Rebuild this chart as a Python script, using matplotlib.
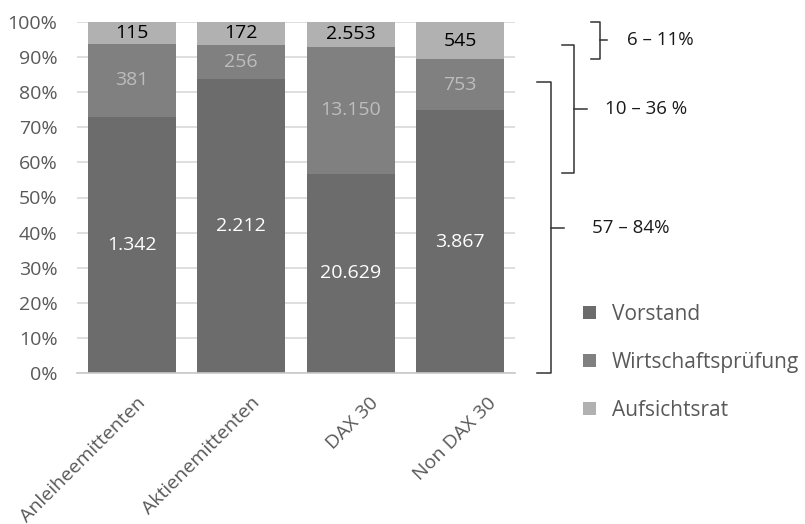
import numpy as np
import matplotlib
matplotlib.use('Agg')
import matplotlib.pyplot as plt
from matplotlib.patches import Patch
from matplotlib.transforms import ScaledTranslation, blended_transform_factory

plt.rcParams['font.family'] = ['Open Sans', 'DejaVu Sans']

# ---- Daten ----
categories = ['Anleiheemittenten', 'Aktienemittenten', 'DAX 30', 'Non DAX 30']
vorstand = [1342, 2212, 20629, 3867]
wirtschaftspruefung = [381, 256, 13150, 753]
aufsichtsrat = [115, 172, 2553, 545]
series_names = ['Vorstand', 'Wirtschaftsprüfung', 'Aufsichtsrat']

# Klammern rechts: (oben, unten) als Anteil, Beschriftung
bracket_ranges = [(1.0, 0.895), (0.934, 0.571), (0.829, 0.0)]
bracket_labels = ['6 – 11%', '10 – 36 %', '57 – 84%']

# ---- Farben ----
colors = ['#6c6c6c', '#808080', '#b1b1b1']
label_colors = ['#ffffff', '#bdbdbd', '#000000']
text_gray = '#595959'

W, H = 805, 524
fig = plt.figure(figsize=(W / 100, H / 100), dpi=100)
ax = fig.add_axes([77 / W, 1 - 373 / H, 438 / W, 351 / H])

values = np.array([vorstand, wirtschaftspruefung, aufsichtsrat], dtype=float)
shares = values / values.sum(axis=0)
x = np.arange(len(categories))

bottom = np.zeros(len(categories))
for i, name in enumerate(series_names):
    ax.bar(x, shares[i], 0.8, bottom=bottom, color=colors[i], label=name, zorder=2)
    for j in range(len(categories)):
        txt = f'{int(values[i, j]):,}'.replace(',', '.')
        ax.text(x[j], bottom[j] + shares[i, j] / 2, txt, ha='center', va='center',
                fontsize=14, color=label_colors[i], zorder=3)
    bottom += shares[i]

ax.set_xlim(-0.5, len(categories) - 0.5)
ax.set_ylim(0, 1)
ax.set_yticks(np.arange(0, 1.01, 0.1))
ax.set_yticklabels([f'{int(round(v * 100))}%' for v in np.arange(0, 1.01, 0.1)])
ax.yaxis.grid(True, color='#d9d9d9', linewidth=1.2, zorder=0)
ax.set_axisbelow(True)
for s in ['top', 'right', 'left']:
    ax.spines[s].set_visible(False)
ax.spines['bottom'].set_color('#c8c8c8')
ax.spines['bottom'].set_linewidth(1.2)
ax.tick_params(axis='both', length=0, labelsize=14, labelcolor=text_gray)
ax.tick_params(axis='y', pad=14)
ax.tick_params(axis='x', pad=15)

# Excel-artige Lage der gedrehten Kategorienbeschriftungen (Versatz in px)
label_dx = [17, 22, 31, 40]
ax.set_xticks(x)
ax.set_xticklabels(categories, rotation=45, ha='right', va='top')
for lab, dx in zip(ax.get_xticklabels(), label_dx):
    lab.set_transform(lab.get_transform() + ScaledTranslation(dx / 100, 0, fig.dpi_scale_trans))

# ---- Klammern ----
tr = blended_transform_factory(fig.transFigure, ax.transData)
bracket_x = [(591, 600, 607, 627), (562, 574, 587, 605), (537, 551, 564, 592)]
for (top, bot), lab, (x0, x1, x2, xt) in zip(bracket_ranges, bracket_labels, bracket_x):
    mid = (top + bot) / 2
    ax.plot([x0 / W, x1 / W, x1 / W, x0 / W], [top, top, bot, bot], color='#333333',
            linewidth=1.1, transform=tr, clip_on=False)
    ax.plot([x1 / W, x2 / W], [mid, mid], color='#333333', linewidth=1.1,
            transform=tr, clip_on=False)
    ax.text(xt / W, mid, lab, transform=tr, ha='left', va='center', fontsize=13.5,
            color='#1a1a1a')

# ---- Legende ----
handles = [Patch(facecolor=c) for c in colors]
fig.legend(handles, series_names, loc='upper left', bbox_to_anchor=(583 / W, 1 - 304 / H),
           frameon=False, fontsize=15, labelcolor=text_gray, handlelength=0.6,
           handleheight=0.6, handletextpad=0.8, labelspacing=1.3, borderpad=0,
           borderaxespad=0)

fig.savefig('out.png', dpi=100)
